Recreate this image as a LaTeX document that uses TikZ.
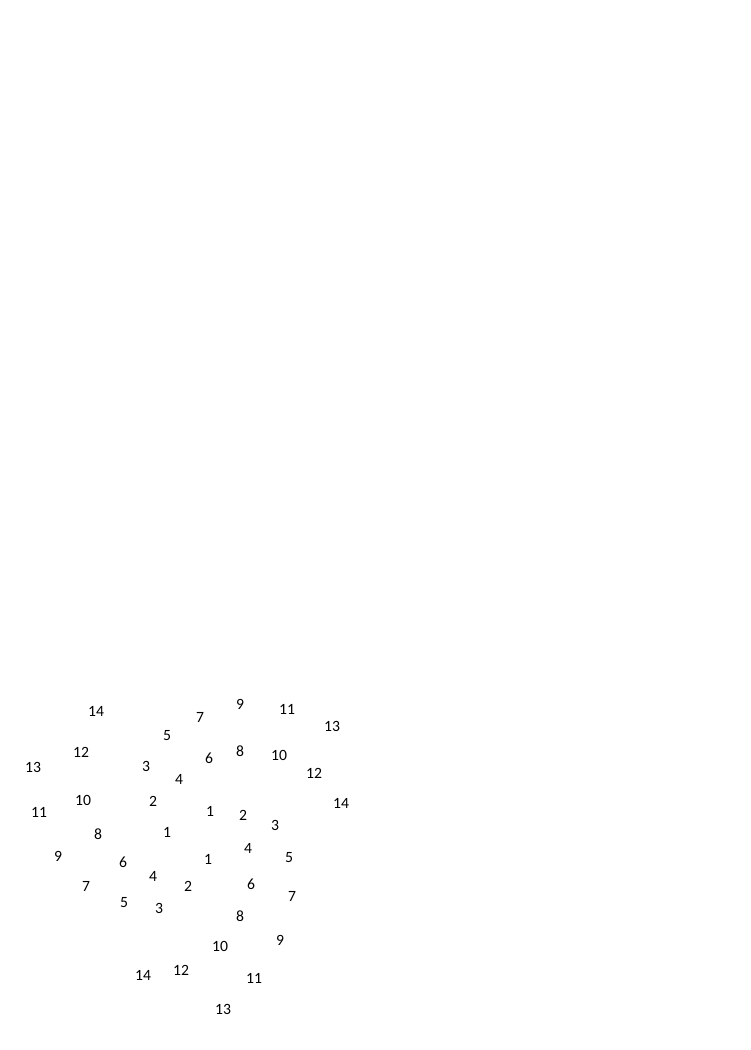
\documentclass[tikz,border=0pt]{standalone}
\usepackage{fontspec}
\setmainfont{Carlito}

\begin{document}
\begin{tikzpicture}[scale=0.35]
\tikzstyle{every node}+=[inner sep=0pt, font=\fontsize{15.6}{19}\selectfont]
\useasboundingbox (0,0) rectangle (75,-105);
% first run of labels
\node (a1) at (21.0,-81.1) {1};
\node (a2) at (24.3,-81.5) {2};
\node (a3) at (27.5,-82.5) {3};
\node (a4) at (24.8,-84.8) {4};
\node (a5) at (28.9,-85.8) {5};
\node (a6) at (25.1,-88.4) {6};
\node (a7) at (29.2,-89.6) {7};
\node (a8) at (24.0,-91.6) {8};
\node (a9) at (28.0,-94.0) {9};
\node (a10) at (22.0,-94.6) {10};
\node (a11) at (25.4,-97.8) {11};
\node (a12) at (18.1,-97.0) {12};
\node (a13) at (22.3,-100.9) {13};
\node (a14) at (14.3,-97.5) {14};
% second run of labels
\node (b1) at (16.7,-83.2) {1};
\node (b2) at (15.3,-80.1) {2};
\node (b3) at (14.6,-76.6) {3};
\node (b4) at (17.9,-77.9) {4};
\node (b5) at (16.7,-73.6) {5};
\node (b6) at (20.9,-75.8) {6};
\node (b7) at (20.0,-71.7) {7};
\node (b8) at (24.0,-75.1) {8};
\node (b9) at (24.0,-70.4) {9};
\node (b10) at (27.9,-75.5) {10};
\node (b11) at (28.7,-70.9) {11};
\node (b12) at (31.4,-77.3) {12};
\node (b13) at (33.2,-72.6) {13};
\node (b14) at (34.1,-80.3) {14};
% third run of labels
\node (c1) at (20.8,-85.9) {1};
\node (c2) at (18.8,-88.6) {2};
\node (c3) at (15.9,-90.8) {3};
\node (c4) at (15.3,-87.6) {4};
\node (c5) at (12.4,-90.3) {5};
\node (c6) at (12.3,-86.2) {6};
\node (c7) at (8.6,-88.6) {7};
\node (c8) at (9.8,-83.4) {8};
\node (c9) at (5.8,-85.6) {9};
\node (c10) at (8.3,-80.0) {10};
\node (c11) at (3.9,-81.2) {11};
\node (c12) at (8.1,-75.2) {12};
\node (c13) at (3.3,-76.7) {13};
\node (c14) at (9.6,-71.1) {14};
\end{tikzpicture}
\end{document}
